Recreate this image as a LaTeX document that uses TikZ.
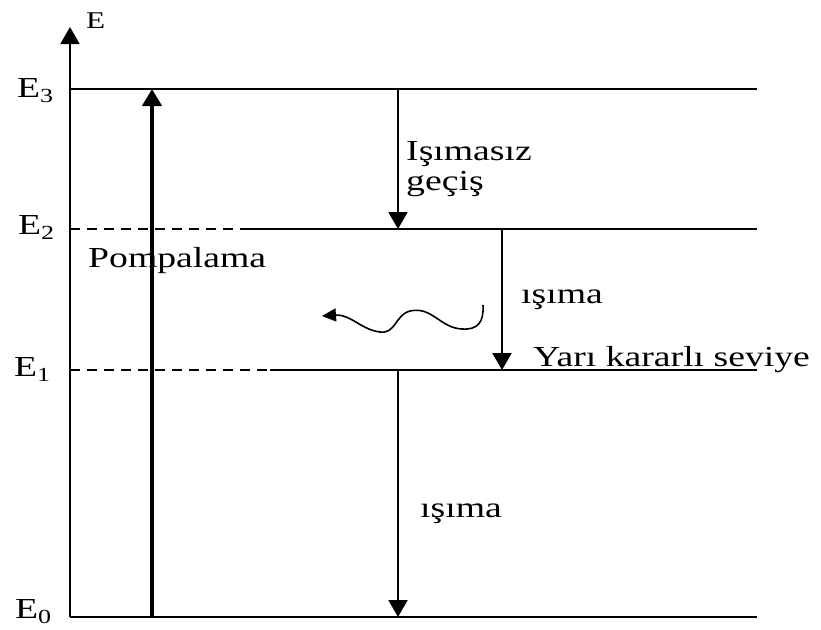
\documentclass[tikz,border=0pt]{standalone}
\usepackage{fontspec}
\setmainfont{Liberation Serif}[FakeStretch=1.3]
\usetikzlibrary{arrows.meta}
\newcommand{\lvl}[1]{E\raisebox{-5pt}{\fontsize{20}{20}\selectfont #1}}
\begin{document}
\begin{tikzpicture}[x=1pt,y=-1pt,
  txt/.style={anchor=base west,inner sep=0pt,font=\fontsize{29}{30}\selectfont},
  level/.style={line width=2pt},
  dashlevel/.style={line width=2pt,dash pattern=on 10pt off 7pt},
  head/.style={-{Triangle[width=19pt,length=17pt]}},
  trans/.style={line width=2.2pt,head},
  pump/.style={line width=4.5pt,head}]
\useasboundingbox (0,0) rectangle (821,629);
% level end points
\coordinate (a0) at (70,617);  \coordinate (b0) at (757,617);
\coordinate (a1) at (70,370);  \coordinate (m1) at (270,370); \coordinate (b1) at (757,370);
\coordinate (a2) at (70,229);  \coordinate (m2) at (248,229); \coordinate (b2) at (757,229);
\coordinate (a3) at (70,89);   \coordinate (b3) at (757,89);
\coordinate (top) at (70,27);
% energy axis
\draw[level,head] (a0) -- (top);
\node[anchor=base west,inner sep=0pt,font=\fontsize{24}{24}\selectfont] (elab) at (86,28) {E};
% levels
\draw[level] (a0) -- (b0);
\draw[dashlevel] (a1) -- (m1); \draw[level] (m1) -- (b1);
\draw[dashlevel] (a2) -- (m2); \draw[level] (m2) -- (b2);
\draw[level] (a3) -- (b3);
% level labels
\node[txt] (l3) at (17,97)  {\lvl{3}};
\node[txt] (l2) at (18,234) {\lvl{2}};
\node[txt] (l1) at (14,376) {\lvl{1}};
\node[txt] (l0) at (15,618) {\lvl{0}};
% pumping
\coordinate (p0) at (152,617); \coordinate (p3) at (152,89);
\draw[pump] (p0) -- (p3);
\node[txt] (pomp) at (88,267) {Pompalama};
% non-radiative E3 -> E2
\coordinate (n3) at (398,89); \coordinate (n2) at (398,229);
\draw[trans] (n3) -- (n2);
\node[txt] (nr1) at (406,160) {Işımasız};
\node[txt] (nr2) at (406,190) {geçiş};
% radiative E2 -> E1
\coordinate (r2) at (502,229); \coordinate (r1) at (502,370);
\draw[trans] (r2) -- (r1);
\node[txt] (rad1) at (521,303) {ışıma};
\node[txt] (meta) at (533,366) {Yarı kararlı seviye};
% emitted photon
\coordinate (w0) at (483,305); \coordinate (w1) at (322,316);
\draw[line width=1.6pt,-{Triangle[width=13pt,length=14pt]}]
  (w0) .. controls (484,322) and (478,330) .. (462,329)
       .. controls (440,328) and (432,306) .. (410,311)
       .. controls (395,315) and (396,334) .. (380,332)
       .. controls (362,330) and (350,314) .. (w1);
% radiative E1 -> E0
\coordinate (s1) at (398,370); \coordinate (s0) at (398,617);
\draw[trans] (s1) -- (s0);
\node[txt] (rad2) at (420,517) {ışıma};
\end{tikzpicture}
\end{document}
